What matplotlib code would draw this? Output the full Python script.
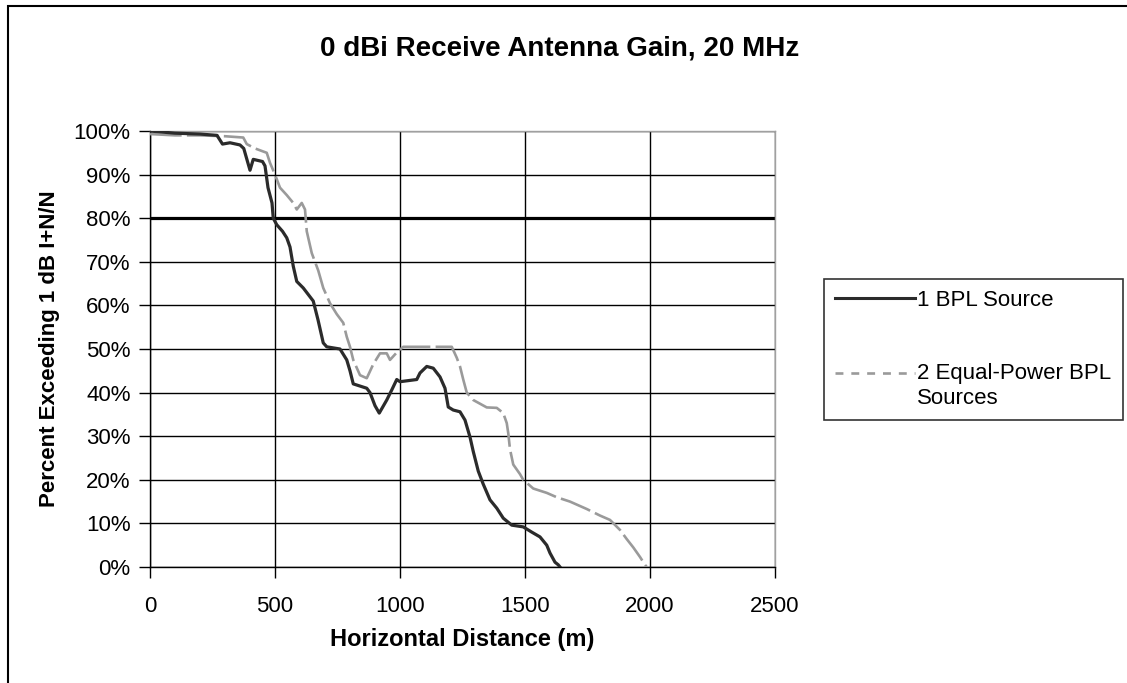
import matplotlib
matplotlib.use("Agg")
import matplotlib.pyplot as plt
from matplotlib.lines import Line2D
from matplotlib.patches import Rectangle
from matplotlib.legend_handler import HandlerLine2D

plt.rcParams['font.family'] = ['Liberation Sans', 'DejaVu Sans']

title = "0 dBi Receive Antenna Gain, 20 MHz"
xlabel = "Horizontal Distance (m)"
ylabel = "Percent Exceeding 1 dB I+N/N"
label1 = "1 BPL Source"
label2 = "2 Equal-Power BPL\nSources"
threshold = 80

x1 = [0, 100, 200, 268, 290, 320, 360, 375, 390, 400, 413, 450, 460, 472, 488, 493,
      507, 530, 547, 560, 573, 587, 613, 653, 672, 693, 707, 760, 787, 800, 813, 867,
      880, 900, 917, 947, 967, 987, 1000, 1067, 1080, 1107, 1133, 1160, 1180, 1193,
      1213, 1240, 1260, 1280, 1293, 1313, 1333, 1360, 1387, 1413, 1447, 1493, 1527,
      1560, 1587, 1600, 1620, 1633, 1640]
y1 = [100, 99.5, 99.3, 99, 97, 97.3, 96.8, 96, 93, 91, 93.5, 93, 92, 87, 83.5, 80,
      78.5, 77, 75.5, 73.4, 69, 65.5, 64, 61, 56.7, 51.4, 50.5, 50, 47.5, 45, 42, 41,
      40, 37, 35.3, 38.3, 40.6, 43, 42.5, 43, 44.5, 46, 45.6, 43.6, 41, 36.7,
      36, 35.6, 33.7, 29.8, 26.5, 22, 19, 15.4, 13.5, 11.2, 9.6, 9.2, 8,
      6.9, 5, 3.2, 1.1, 0.5, 0]

x2 = [0, 100, 200, 300, 373, 387, 420, 467, 480, 500, 520, 547, 573, 587, 607, 620,
      627, 647, 673, 693, 720, 747, 773, 787, 800, 813, 840, 867, 893, 920, 947, 960,
      987, 1013, 1100, 1207, 1227, 1240, 1253, 1267, 1293, 1347, 1387, 1413, 1427,
      1433, 1440, 1453, 1480, 1493, 1533, 1587, 1627, 1680, 1747, 1800, 1840, 1880,
      1907, 1933, 1960, 1980, 1987]
y2 = [99.3, 99, 99, 98.8, 98.5, 97, 96, 95, 92.7, 90, 87, 85.3, 83.5, 82, 83.5, 82,
      77, 72, 68, 64, 60.5, 58, 56, 52.8, 50.5, 47.5, 44, 43.3, 46.5, 49, 49, 47.5,
      49.2, 50.5, 50.5, 50.5, 48, 46, 43, 40, 38.3, 36.6, 36.5, 35.3, 33,
      30.7, 27, 23.5, 21.3, 20, 18, 17, 16, 15, 13.3, 11.8, 10.8, 8.5,
      6.4, 4.5, 2.3, 0.5, 0]

xticks = [0, 500, 1000, 1500, 2000, 2500]
yticks = [0, 10, 20, 30, 40, 50, 60, 70, 80, 90, 100]
ytick_labels = [f"{v}%" for v in yticks]


class ShiftedLineHandler(HandlerLine2D):
    """Line handle raised so it lines up with the first row of a two-row label."""
    def __init__(self, shift=0.0, **kw):
        super().__init__(**kw)
        self.shift = shift

    def create_artists(self, legend, orig_handle, xdescent, ydescent, width,
                       height, fontsize, trans):
        arts = super().create_artists(legend, orig_handle, xdescent, ydescent,
                                      width, height, fontsize, trans)
        for a in arts:
            if isinstance(a, Line2D):
                a.set_ydata([v + self.shift * fontsize for v in a.get_ydata()])
        return arts


W, H = 1127, 683
fig = plt.figure(figsize=(W / 100, H / 100), dpi=100)
fig.patch.set_facecolor('white')

L, R, T, B = 150, 775, 131, 567
ax = fig.add_axes([L / W, 1 - B / H, (R - L) / W, (B - T) / H])

ax.set_xlim(0, 2500)
ax.set_ylim(0, 100)
ax.set_xticks(xticks)
ax.set_xticklabels([str(v) for v in xticks])
ax.set_yticks(yticks)
ax.set_yticklabels(ytick_labels)
ax.grid(True, color='black', linewidth=1.0, zorder=1)
ax.set_axisbelow(True)

ax.axhline(threshold, color='black', linewidth=2.3, zorder=2)

ln1, = ax.plot(x1, y1, color='#2b2b2b', linewidth=2.3, zorder=4, label=label1)
ln2, = ax.plot(x2, y2, color='#9a9a9a', linewidth=1.9, zorder=3,
               linestyle=(0, (12, 2)), label=label2)

for s in ['left', 'bottom']:
    ax.spines[s].set_color('black')
    ax.spines[s].set_linewidth(1.0)
for s in ['top', 'right']:
    ax.spines[s].set_color('#a0a0a0')
    ax.spines[s].set_linewidth(1.0)

ax.tick_params(axis='both', direction='out', length=8, width=1, colors='black',
               labelsize=16)
ax.tick_params(axis='x', pad=13)
ax.tick_params(axis='y', pad=6)

fig.suptitle(title, x=560 / W, y=1 - 49 / H, ha='center', va='center',
             fontsize=20, fontweight='bold')
ax.set_xlabel(xlabel, fontsize=17, fontweight='bold', labelpad=8)
ax.set_ylabel(ylabel, fontsize=16, fontweight='bold', labelpad=10)

h1 = Line2D([], [], color='#2b2b2b', linewidth=2.2)
h2 = Line2D([], [], color='#9a9a9a', linewidth=1.9, linestyle=(0, (3, 3)))
leg = fig.legend([h1, h2], [label1, label2],
                 loc='upper left', bbox_to_anchor=(824 / W, 1 - 279 / H),
                 fontsize=16, frameon=True, fancybox=False, shadow=False,
                 handlelength=3.6, handletextpad=0.1, labelspacing=2.35,
                 borderpad=0.5, borderaxespad=0,
                 handler_map={h2: ShiftedLineHandler(shift=0.58)})
leg.get_frame().set_edgecolor('black')
leg.get_frame().set_linewidth(1.2)

# outer chart border
fig.add_artist(Rectangle((8 / W, -0.01), 1.2, (H - 6) / H + 0.01,
                         transform=fig.transFigure, fill=False,
                         edgecolor='black', linewidth=1.5))

fig.savefig("out.png", dpi=100, facecolor='white')
